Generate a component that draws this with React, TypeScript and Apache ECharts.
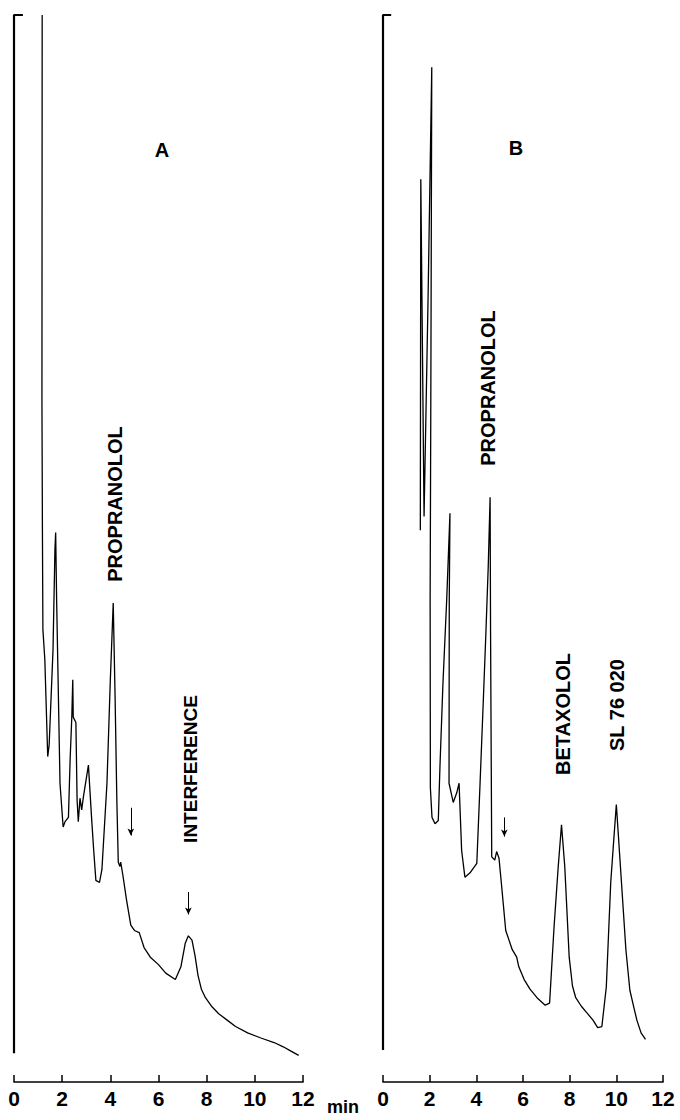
import React, { useEffect, useRef } from "react";
import * as echarts from "echarts";

// Chromatogram A (time in min, detector response in arbitrary units, 0-100 = full scale)
const timeA = [1.17, 1.16, 1.18, 1.2, 1.28, 1.4, 1.46, 1.62, 1.7, 1.73, 1.77, 1.91, 2.04, 2.12, 2.26, 2.33, 2.4, 2.44, 2.46, 2.57, 2.62, 2.67, 2.74, 2.81, 2.88, 3.09, 3.22, 3.31, 3.4, 3.55, 3.65, 3.86, 4.0, 4.12, 4.2, 4.27, 4.33, 4.4, 4.43, 4.52, 4.67, 4.85, 5.0, 5.2, 5.4, 5.66, 6.0, 6.3, 6.7, 6.93, 7.11, 7.24, 7.39, 7.52, 7.64, 7.78, 7.95, 8.2, 8.5, 8.85, 9.2, 9.7, 10.28, 10.8, 11.18, 11.5, 11.82];
const signalA = [100, 63.9, 51.7, 42.4, 39.6, 30.5, 31.6, 40.5, 49.9, 51.5, 45.2, 28.0, 23.9, 24.4, 24.8, 30.2, 34.2, 37.7, 34.2, 33.7, 26.4, 24.4, 26.6, 25.5, 26.7, 29.7, 24.8, 21.7, 18.9, 18.7, 19.9, 28.0, 37.7, 44.9, 35.8, 26.4, 20.6, 20.2, 20.6, 19.4, 17.1, 14.7, 14.2, 14.0, 12.6, 11.7, 11.0, 10.2, 9.6, 10.8, 13.0, 13.7, 13.3, 11.8, 10.0, 8.7, 7.9, 7.1, 6.4, 5.8, 5.2, 4.6, 4.1, 3.7, 3.3, 2.9, 2.5];

// Chromatogram B
const timeB = [1.6, 1.62, 1.76, 1.93, 2.09, 2.05, 2.02, 2.03, 2.1, 2.23, 2.37, 2.44, 2.57, 2.73, 2.87, 2.84, 2.83, 3.01, 3.16, 3.26, 3.37, 3.51, 3.73, 4.02, 4.16, 4.3, 4.41, 4.51, 4.59, 4.61, 4.66, 4.79, 4.87, 4.97, 5.07, 5.26, 5.54, 5.73, 5.82, 6.05, 6.3, 6.6, 6.95, 7.14, 7.33, 7.51, 7.65, 7.79, 7.98, 8.12, 8.26, 8.5, 8.73, 9.0, 9.2, 9.38, 9.57, 9.76, 9.89, 10.0, 10.13, 10.41, 10.58, 10.75, 10.88, 11.06, 11.25];
const signalB = [51.7, 84.6, 53.0, 73.3, 95.1, 64.4, 45.2, 27.6, 24.8, 24.2, 24.5, 29.5, 37.4, 45.2, 53.3, 45.2, 28.0, 26.2, 27.1, 28.0, 21.7, 19.2, 19.6, 20.5, 28.0, 35.8, 42.1, 48.3, 54.8, 42.1, 21.1, 20.8, 21.6, 21.0, 18.7, 14.2, 12.4, 11.7, 10.8, 9.6, 8.7, 7.9, 7.2, 7.4, 14.5, 20.2, 24.1, 20.2, 11.7, 9.0, 7.9, 7.1, 6.5, 5.8, 5.1, 5.2, 8.9, 18.7, 22.7, 26.0, 21.7, 12.4, 8.6, 7.0, 5.8, 4.6, 4.0];

// Recorder pen baseline marker (time, response)
const markerA = [[0.37, 100], [0, 100], [0, 2.7]];
const markerB = [[0.35, 100], [0, 100], [0, 3.0]];

// Injection / peak arrows: [time, from, to]
const arrowsA = [[4.85, 25.7, 23.1], [7.24, 17.8, 15.7]];
const arrowsB = [[5.2, 24.8, 23.0]];

const xTicks = [0, 2, 4, 6, 8, 10, 12];

const FONT = "'Liberation Sans', Arial, sans-serif";

function pairs(t: number[], v: number[]) {
  return t.map((x, i) => [x, v[i]]);
}

function arrowLines(list: number[][]) {
  return list.map(([t, a, b]) => [{ coord: [t, a] }, { coord: [t, b] }]);
}

export default function App() {
  const ref = useRef<HTMLDivElement>(null);
  useEffect(() => {
    if (!ref.current) return;
    const chart = echarts.init(ref.current, null, { renderer: "svg" });
    const xAxisBase = (gridIndex: number) => ({
      type: "value",
      gridIndex,
      min: xTicks[0],
      max: xTicks[xTicks.length - 1],
      interval: 2,
      axisLine: { show: true, lineStyle: { color: "#000", width: 1.6 } },
      axisTick: { show: true, inside: true, length: 7, lineStyle: { color: "#000", width: 1.5 } },
      axisLabel: { color: "#000", fontSize: 21, fontWeight: "bold", fontFamily: FONT, margin: 6 },
      splitLine: { show: false },
    });
    const yAxisBase = (gridIndex: number) => ({
      type: "value",
      gridIndex,
      min: 0,
      max: 100,
      show: false,
    });
    const trace = (name: string, idx: number, data: number[][], arrows: number[][]) => ({
      name,
      type: "line",
      xAxisIndex: idx,
      yAxisIndex: idx,
      data,
      showSymbol: false,
      symbol: "none",
      lineStyle: { color: "#000", width: 1.3 },
      clip: false,
      markLine: {
        silent: true,
        symbol: ["none", "arrow"],
        symbolSize: [5, 7],
        label: { show: false },
        lineStyle: { color: "#000", width: 1, type: "solid" },
        data: arrowLines(arrows),
      },
    });
    const marker = (idx: number, data: number[][]) => ({
      type: "line",
      xAxisIndex: idx,
      yAxisIndex: idx,
      data,
      showSymbol: false,
      symbol: "none",
      clip: false,
      lineStyle: { color: "#000", width: 2.2 },
    });
    const label = (text: string, x: number, y: number, rot: number, size = 20) => ({
      type: "text",
      x,
      y,
      rotation: rot,
      style: {
        text,
        fill: "#000",
        font: `bold ${size}px ${FONT}`,
        textAlign: "center",
        textVerticalAlign: "middle",
      },
    });
    const R = Math.PI / 2;
    chart.setOption({
      animation: false,
      backgroundColor: "#fff",
      grid: [
        { left: 14, right: 377, top: 15, bottom: 38 },
        { left: 383, right: 17, top: 15, bottom: 38 },
      ],
      xAxis: [xAxisBase(0), xAxisBase(1)],
      yAxis: [yAxisBase(0), yAxisBase(1)],
      series: [
        trace("A", 0, pairs(timeA, signalA), arrowsA),
        trace("B", 1, pairs(timeB, signalB), arrowsB),
        marker(0, markerA),
        marker(1, markerB),
      ],
      graphic: [
        label("A", 162, 150, 0),
        label("B", 516, 148, 0),
        label("PROPRANOLOL", 115, 504, R),
        label("INTERFERENCE", 190, 769, R, 19),
        label("PROPRANOLOL", 488, 388, R),
        label("BETAXOLOL", 563, 714, R),
        label("SL 76 020", 617, 705, R),
        {
          type: "text",
          x: 343,
          y: 1107,
          style: { text: "min", fill: "#000", font: `bold 18px ${FONT}`, textAlign: "center", textVerticalAlign: "middle" },
        },
      ],
    });
    return () => chart.dispose();
  }, []);
  return <div ref={ref} style={{ position: "fixed", left: 0, top: 0, width: 680, height: 1120, background: "#fff" }} />;
}
